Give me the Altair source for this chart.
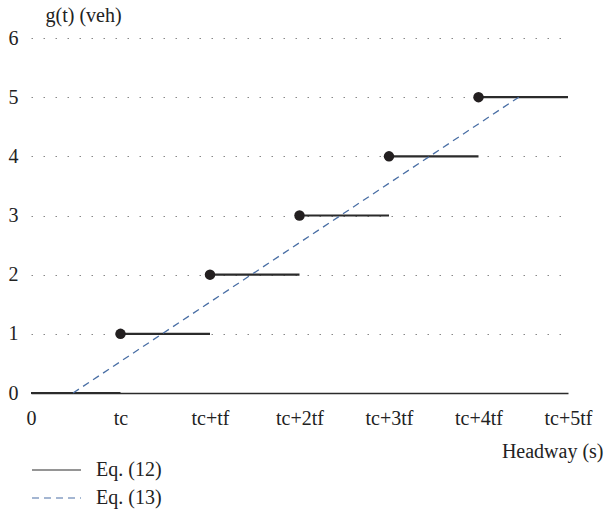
import altair as alt
import pandas as pd

# Step function g(t): horizontal segments starting at each arrival point
seg_x = [0, 1, 2, 3, 4, 5]
seg_x2 = [1, 2, 3, 4, 5, 6]
seg_y = [0, 1, 2, 3, 4, 5]

# Filled dots at the start of each step
dot_x = [1, 2, 3, 4, 5]
dot_y = [1, 2, 3, 4, 5]

# Linear approximation
lin_x = [0.47, 5.45]
lin_y = [0, 5]

tick_labels = ["0", "tc", "tc+tf", "tc+2tf", "tc+3tf", "tc+4tf", "tc+5tf"]
series = ["Eq. (12)", "Eq. (13)"]

FONT = "Liberation Serif"
FS = 20

seg_df = pd.DataFrame({"x": seg_x, "x2": seg_x2, "y": seg_y, "series": series[0]})
dot_df = pd.DataFrame({"x": dot_x, "y": dot_y})
lin_df = pd.DataFrame({"x": lin_x, "y": lin_y, "series": series[1]})

label_expr = "[" + ",".join(f"'{t}'" for t in tick_labels) + "][datum.value]"

x_scale = alt.Scale(domain=[0, 6], nice=False)
y_scale = alt.Scale(domain=[0, 6], nice=False)

color_scale = alt.Scale(domain=series, range=["#2b2b2b", "#4a6fa5"])
dash_scale = alt.Scale(domain=series, range=[[1, 0], [7, 5]])

legend = alt.Legend(
    title=None, orient="none", legendX=0, legendY=418,
    symbolType="stroke", symbolSize=2400, symbolStrokeWidth=1.2,
    labelFont=FONT, labelFontSize=FS, labelColor="#222",
    labelOffset=14, rowPadding=0, clipHeight=28,
)

x_axis = alt.Axis(
    values=list(range(len(tick_labels))), labelExpr=label_expr,
    title="Headway (s)", titleFont=FONT, titleFontSize=FS, titleFontWeight="normal",
    titleColor="#222", titleAnchor="end", titleAlign="right", titleX=572, titleY=58,
    titleBaseline="middle",
    labelFont=FONT, labelFontSize=FS, labelColor="#222", labelPadding=15,
    labelFlush=False, labelOverlap=False,
    ticks=False, grid=False, domain=True, domainColor="#2b2b2b", domainWidth=1.5,
)

y_axis = alt.Axis(
    values=[0, 1, 2, 3, 4, 5, 6], format="d",
    title="g(t) (veh)", titleFont=FONT, titleFontSize=FS, titleFontWeight="normal",
    titleColor="#222", titleAngle=0, titleAlign="left", titleBaseline="middle",
    titleX=14, titleY=-23,
    labelFont=FONT, labelFontSize=FS, labelColor="#222", labelPadding=13,
    ticks=False, domain=False,
    grid=True, gridColor="#888", gridDash=[1.5, 10.5], gridWidth=1,
    gridOpacity={"condition": {"test": "datum.value == 0", "value": 0}, "value": 1},
)

steps = alt.Chart(seg_df).mark_rule(strokeWidth=2.2).encode(
    x=alt.X("x:Q", scale=x_scale, axis=x_axis),
    x2="x2:Q",
    y=alt.Y("y:Q", scale=y_scale, axis=y_axis),
    color=alt.Color("series:N", scale=color_scale, legend=legend),
    strokeDash=alt.StrokeDash("series:N", scale=dash_scale, legend=legend),
)

dots = alt.Chart(dot_df).mark_circle(size=110, opacity=1, color="#231f20").encode(
    x=alt.X("x:Q", scale=x_scale),
    y=alt.Y("y:Q", scale=y_scale),
)

line = alt.Chart(lin_df).mark_line(strokeWidth=1.3).encode(
    x=alt.X("x:Q", scale=x_scale),
    y=alt.Y("y:Q", scale=y_scale),
    color=alt.Color("series:N", scale=color_scale, legend=legend),
    strokeDash=alt.StrokeDash("series:N", scale=dash_scale, legend=legend),
)

chart = alt.layer(steps, line, dots).properties(
    width=537, height=355,
    autosize=alt.AutoSizeParams(type="none"),
    padding={"left": 31, "top": 38, "right": 37, "bottom": 120},
    background="white",
).configure_view(stroke=None)

chart.save("out.html", embed_options={"renderer": "svg", "actions": False})
